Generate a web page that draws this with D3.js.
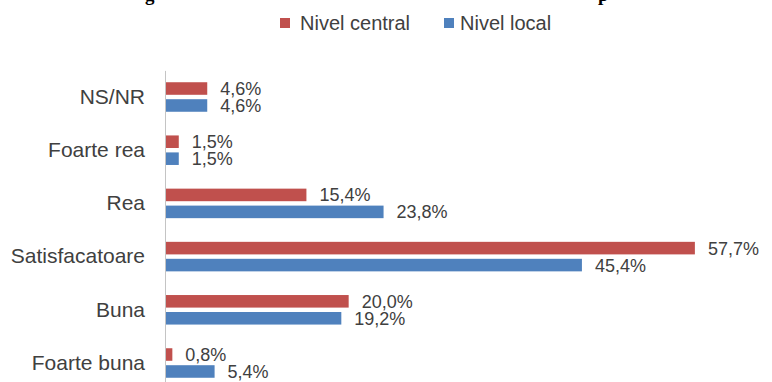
<!DOCTYPE html>
<html>
<head>
<meta charset="utf-8">
<script src="https://cdn.jsdelivr.net/npm/d3@7"></script>
<style>
  html, body { margin: 0; padding: 0; background: #ffffff; }
  svg { display: block; }
</style>
</head>
<body>
<div id="chart"></div>
<script>
// Evaluation categories, top to bottom
const categories = ["NS/NR", "Foarte rea", "Rea", "Satisfacatoare", "Buna", "Foarte buna"];
const seriesNames = ["Nivel central", "Nivel local"];
// Percent of respondents per category
const nivelCentral = [4.6, 1.5, 15.4, 57.7, 20.0, 0.8];
const nivelLocal   = [4.6, 1.5, 23.8, 45.4, 19.2, 5.4];
const seriesColors = ["#C0504D", "#4F81BD"];

const W = 772, H = 382;
const svg = d3.select("#chart").append("svg")
  .attr("width", W).attr("height", H);

const fontFamily = "'Liberation Sans', Arial, sans-serif";
const textColor = "#404040";

// Title fragment (only its lowest part falls inside the frame)
const titleParts = [{ t: "g", x: 145 }, { t: "p", x: 598 }];
svg.selectAll("text.title").data(titleParts).enter().append("text")
  .attr("class", "title")
  .attr("x", d => d.x).attr("y", 1)
  .attr("font-family", "'Liberation Serif', 'Times New Roman', serif")
  .attr("font-weight", "bold").attr("font-size", 19)
  .attr("fill", "#000")
  .text(d => d.t);

// Scales
const x = d3.scaleLinear().domain([0, 60]).range([165, 716]);
const y = d3.scaleBand().domain(categories)
  .range([70.4, 389.6]).paddingInner(0.445).paddingOuter(0.2225);
const ySub = d3.scaleBand().domain(seriesNames)
  .range([0, y.bandwidth()]).paddingInner(0.26);

const rows = categories.map((c, i) => ({
  category: c,
  values: [
    { series: seriesNames[0], value: nivelCentral[i] },
    { series: seriesNames[1], value: nivelLocal[i] }
  ]
}));

const color = d3.scaleOrdinal().domain(seriesNames).range(seriesColors);

// Bars
const groups = svg.selectAll("g.cat").data(rows).enter().append("g")
  .attr("class", "cat")
  .attr("transform", d => `translate(0,${y(d.category)})`);

groups.selectAll("rect").data(d => d.values).enter().append("rect")
  .attr("x", x(0))
  .attr("y", d => ySub(d.series))
  .attr("width", d => x(d.value) - x(0))
  .attr("height", ySub.bandwidth())
  .attr("fill", d => color(d.series));

// Value labels
const fmt = v => v.toFixed(1).replace(".", ",") + "%";
groups.selectAll("text.val").data(d => d.values).enter().append("text")
  .attr("class", "val")
  .attr("x", d => x(d.value) + 13)
  .attr("y", d => ySub(d.series) + ySub.bandwidth() / 2)
  .attr("dy", "0.36em")
  .attr("font-family", fontFamily).attr("font-size", 18)
  .attr("fill", textColor)
  .text(d => fmt(d.value));

// Category axis
const axis = svg.append("g")
  .attr("transform", `translate(${x(0)},0)`)
  .call(d3.axisLeft(y).tickSize(0).tickSizeOuter(0).tickPadding(20));
axis.select(".domain").attr("stroke", "#c4c4c4").attr("stroke-width", 1);
axis.selectAll(".tick text")
  .attr("font-family", fontFamily).attr("font-size", 21)
  .attr("fill", textColor);

// Legend
const legendItems = [
  { name: seriesNames[0], sx: 280, tx: 300 },
  { name: seriesNames[1], sx: 444, tx: 460 }
];
const legend = svg.selectAll("g.legend").data(legendItems).enter().append("g")
  .attr("class", "legend");
legend.append("rect")
  .attr("x", d => d.sx).attr("y", 18)
  .attr("width", 10).attr("height", 10)
  .attr("fill", d => color(d.name));
legend.append("text")
  .attr("x", d => d.tx).attr("y", 30)
  .attr("font-family", fontFamily).attr("font-size", 20)
  .attr("fill", textColor)
  .text(d => d.name);
</script>
</body>
</html>
